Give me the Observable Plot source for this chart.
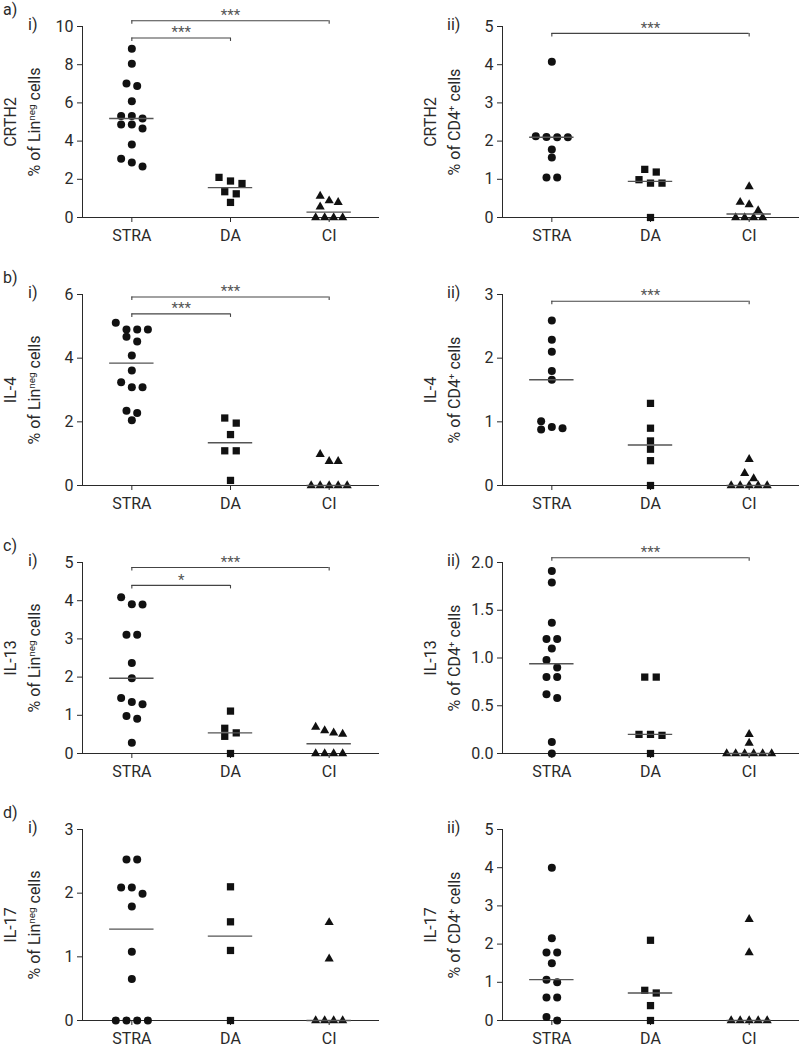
<!DOCTYPE html>
<html><head><meta charset="utf-8">
<script src="https://cdn.jsdelivr.net/npm/d3@7"></script>
<script src="https://cdn.jsdelivr.net/npm/@observablehq/plot@0.6"></script>
<style>
body{margin:0;background:#fff;font-family:Roboto,sans-serif;color:#2a2a2a;}
#root{position:relative;width:799px;height:1048px;overflow:hidden;background:#fff;}
.panel{position:absolute;}
.lbl{position:absolute;font-size:16px;line-height:16px;white-space:nowrap;}
.ytitle{position:absolute;width:240px;height:48px;left:-97px;top:97.5px;transform:rotate(-90deg);text-align:center;font-size:16px;line-height:24px;white-space:nowrap;}
sup{font-size:0.62em;line-height:0;vertical-align:0.5em;}
</style></head>
<body><div id="root"></div>
<script>
// ---------- categories ----------
const groups = ["STRA", "DA", "CI"];
const symbols = ["circle", "square", "triangle"];

// ---------- a) CRTH2 ----------
const crth2LinSTRA = [8.84, 8.05, 7.02, 6.88, 6.08, 5.32, 5.32, 5.18, 4.87, 4.87, 4.66, 3.82, 3.07, 2.88, 2.67];
const crth2LinDA = [2.10, 1.91, 1.78, 1.35, 1.24, 0.79];
const crth2LinCI = [1.12, 0.88, 0.79, 0.56, 0, 0, 0, 0];
const crth2CD4STRA = [4.08, 2.13, 2.11, 2.10, 2.10, 1.78, 1.57, 1.05, 1.05];
const crth2CD4DA = [1.26, 1.19, 0.99, 0.90, 0.90, 0];
const crth2CD4CI = [0.81, 0.40, 0.34, 0.18, 0, 0, 0, 0];
// ---------- b) IL-4 ----------
const il4LinSTRA = [5.11, 4.90, 4.90, 4.90, 4.67, 4.52, 4.08, 3.61, 3.24, 3.09, 3.09, 2.35, 2.28, 2.05];
const il4LinDA = [2.12, 1.96, 1.60, 1.09, 1.09, 0.16];
const il4LinCI = [0.98, 0.76, 0.76, 0, 0, 0, 0, 0];
const il4CD4STRA = [2.59, 2.29, 2.10, 1.80, 1.66, 1.01, 0.92, 0.90, 0.88];
const il4CD4DA = [1.29, 0.90, 0.70, 0.57, 0.39, 0];
const il4CD4CI = [0.41, 0.19, 0.11, 0, 0, 0, 0, 0];
// ---------- c) IL-13 ----------
const il13LinSTRA = [4.09, 3.91, 3.90, 3.11, 3.11, 2.37, 1.97, 1.45, 1.35, 1.29, 0.98, 0.91, 0.28];
const il13LinDA = [1.11, 0.66, 0.54, 0.45, 0];
const il13LinCI = [0.69, 0.60, 0.54, 0.51, 0, 0, 0, 0];
const il13CD4STRA = [1.91, 1.79, 1.37, 1.20, 1.20, 1.10, 0.98, 0.90, 0.80, 0.80, 0.62, 0.58, 0.12, 0];
const il13CD4DA = [0.80, 0.80, 0.20, 0.19, 0.20, 0];
const il13CD4CI = [0.20, 0.11, 0, 0, 0, 0, 0, 0];
// ---------- d) IL-17 ----------
const il17LinSTRA = [2.53, 2.53, 2.09, 2.09, 1.99, 1.79, 1.08, 0.65, 0, 0, 0, 0];
const il17LinDA = [2.10, 1.55, 1.10, 0];
const il17LinCI = [1.54, 0.97, 0, 0, 0, 0];
const il17CD4STRA = [4.00, 2.15, 1.78, 1.78, 1.50, 1.07, 1.00, 0.60, 0.60, 0.09, 0];
const il17CD4DA = [2.10, 0.79, 0.72, 0.39, 0];
const il17CD4CI = [2.65, 1.78, 0, 0, 0, 0, 0];

// ---------- significance brackets (level in data units) ----------
const sigCrth2Lin = [{from: "STRA", to: "CI", label: "***", level: 10.3}, {from: "STRA", to: "DA", label: "***", level: 9.4}];
const sigCrth2CD4 = [{from: "STRA", to: "CI", label: "***", level: 4.82}];
const sigIl4Lin = [{from: "STRA", to: "CI", label: "***", level: 5.92}, {from: "STRA", to: "DA", label: "***", level: 5.39}];
const sigIl4CD4 = [{from: "STRA", to: "CI", label: "***", level: 2.895}];
const sigIl13Lin = [{from: "STRA", to: "CI", label: "***", level: 4.87}, {from: "STRA", to: "DA", label: "*", level: 4.40}];
const sigIl13CD4 = [{from: "STRA", to: "CI", label: "***", level: 2.05}];

// ---------- axis ticks ----------
const ticks10 = [0, 2, 4, 6, 8, 10];
const ticks5 = [0, 1, 2, 3, 4, 5];
const ticks6 = [0, 2, 4, 6];
const ticks3 = [0, 1, 2, 3];
const ticks2 = [0, 0.5, 1.0, 1.5, 2.0];

const panels = [
  {row: 0, col: 0, letter: "a)", roman: "i)", name: "CRTH2", cells: "lin", ymax: 10, ticks: ticks10, data: [crth2LinSTRA, crth2LinDA, crth2LinCI], sig: sigCrth2Lin},
  {row: 0, col: 1, roman: "ii)", name: "CRTH2", cells: "cd4", ymax: 5, ticks: ticks5, data: [crth2CD4STRA, crth2CD4DA, crth2CD4CI], sig: sigCrth2CD4},
  {row: 1, col: 0, letter: "b)", roman: "i)", name: "IL-4", cells: "lin", ymax: 6, ticks: ticks6, data: [il4LinSTRA, il4LinDA, il4LinCI], sig: sigIl4Lin},
  {row: 1, col: 1, roman: "ii)", name: "IL-4", cells: "cd4", ymax: 3, ticks: ticks3, data: [il4CD4STRA, il4CD4DA, il4CD4CI], sig: sigIl4CD4},
  {row: 2, col: 0, letter: "c)", roman: "i)", name: "IL-13", cells: "lin", ymax: 5, ticks: ticks5, data: [il13LinSTRA, il13LinDA, il13LinCI], sig: sigIl13Lin},
  {row: 2, col: 1, roman: "ii)", name: "IL-13", cells: "cd4", ymax: 2, ticks: ticks2, fmt: ".1f", data: [il13CD4STRA, il13CD4DA, il13CD4CI], sig: sigIl13CD4},
  {row: 3, col: 0, letter: "d)", roman: "i)", name: "IL-17", cells: "lin", ymax: 3, ticks: ticks3, data: [il17LinSTRA, il17LinDA, il17LinCI], sig: []},
  {row: 3, col: 1, roman: "ii)", name: "IL-17", cells: "cd4", ymax: 5, ticks: ticks5, data: [il17CD4STRA, il17CD4DA, il17CD4CI], sig: []}
];

// ---------- layout constants ----------
const rowTops = [0, 268, 536, 803];
const colLefts = [0, 420];
const colWidths = [400, 379];
const PLOT_W = 296, PLOT_H = 191, M_LEFT = 82, M_TOP = 26, SVG_H = 268;
const STEP = PLOT_W / 3; // px per category unit
const radii = [4, 4.1, 3.4];
const diam = [8, 7.5, 8.5];
const spacing = [10.7, 11.5, 9];

// Prism-like scatter spreading: rows of close values laid out symmetrically, shifted to avoid overlap
function spread(values, gi, ymax) {
  const ppu = PLOT_H / ymax;
  const d = diam[gi], s = spacing[gi];
  const pts = values.map(v => ({v, py: v * ppu})).sort((a, b) => b.v - a.v);
  const rows = [];
  for (const p of pts) {
    const last = rows[rows.length - 1];
    if (last && last[0].py - p.py < d) last.push(p); else rows.push([p]);
  }
  const placed = [];
  const shifts = [0];
  for (let k = 1; k < 30; k++) shifts.push(k * s / 2, -k * s / 2);
  for (const row of rows) {
    const n = row.length;
    const base = row.map((p, k) => (k - (n - 1) / 2) * s);
    for (const sh of shifts) {
      const ok = row.every((p, k) => placed.every(q => Math.hypot(base[k] + sh - q.px, p.py - q.py) >= d * 0.9));
      if (ok) { row.forEach((p, k) => { p.px = base[k] + sh; placed.push(p); }); break; }
    }
  }
  return placed.map(p => ({gi, x: gi + p.px / STEP, y: p.v}));
}

const root = document.getElementById("root");
for (const p of panels) {
  const W = colWidths[p.col];
  const div = document.createElement("div");
  div.className = "panel";
  div.style.left = colLefts[p.col] + "px";
  div.style.top = rowTops[p.row] + "px";
  div.style.width = W + "px";
  div.style.height = SVG_H + "px";

  const dots = p.data.flatMap((vals, gi) => spread(vals, gi, p.ymax));
  const meds = p.data.map((vals, gi) => ({gi, m: d3.median(vals)}));
  const sig = p.sig.map(s => ({...s, i1: groups.indexOf(s.from), i2: groups.indexOf(s.to)}));
  const tickLen = 3.5 * p.ymax / PLOT_H;
  const ends = sig.flatMap(s => [{x: s.i1, y: s.level}, {x: s.i2, y: s.level}]);

  const svg = Plot.plot({
    width: W, height: SVG_H,
    marginLeft: M_LEFT, marginRight: W - M_LEFT - PLOT_W, marginTop: M_TOP, marginBottom: SVG_H - M_TOP - PLOT_H,
    style: {fontFamily: "Roboto, sans-serif", fontSize: "16px", color: "#2a2a2a", background: "transparent", overflow: "visible"},
    x: {domain: [-0.5, 2.5], ticks: [0, 1, 2], tickFormat: i => groups[i], tickSize: 5, tickPadding: 7, line: true, label: null},
    y: {domain: [0, p.ymax], ticks: p.ticks, tickFormat: p.fmt ? d3.format(p.fmt) : d3.format("d"), tickSize: 5, tickPadding: 4, line: true, label: null},
    marks: [
      ...groups.map((g, gi) => Plot.dot(dots.filter(d => d.gi === gi), {x: "x", y: "y", symbol: symbols[gi], r: radii[gi], fill: "#111", stroke: "none"})),
      Plot.ruleY(meds, {x1: d => d.gi - 0.225, x2: d => d.gi + 0.225, y: "m", stroke: "#555", strokeWidth: 1.4}),
      Plot.ruleY(sig, {x1: "i1", x2: "i2", y: "level", stroke: "#444", strokeWidth: 1.1}),
      Plot.ruleX(ends, {x: "x", y1: d => d.y - tickLen, y2: "y", stroke: "#444", strokeWidth: 1.1}),
      Plot.text(sig, {x: d => (d.i1 + d.i2) / 2, y: "level", text: "label", dy: -5.5, fontSize: 15, fill: "#555"})
    ]
  });
  svg.style.position = "absolute";
  svg.style.left = "0px";
  svg.style.top = "0px";
  div.appendChild(svg);

  if (p.letter) {
    const l = document.createElement("div");
    l.className = "lbl"; l.textContent = p.letter;
    l.style.left = "3px"; l.style.top = "2px";
    div.appendChild(l);
  }
  const r = document.createElement("div");
  r.className = "lbl"; r.textContent = p.roman;
  r.style.left = (p.col === 0 ? 28 : 27) + "px"; r.style.top = "17px";
  div.appendChild(r);

  const t = document.createElement("div");
  t.className = "ytitle";
  t.innerHTML = p.name + "<br>" + (p.cells === "lin" ? "% of Lin<sup>neg</sup> cells" : "% of CD4<sup>+</sup> cells");
  div.appendChild(t);

  root.appendChild(div);
}
</script>
</body></html>
